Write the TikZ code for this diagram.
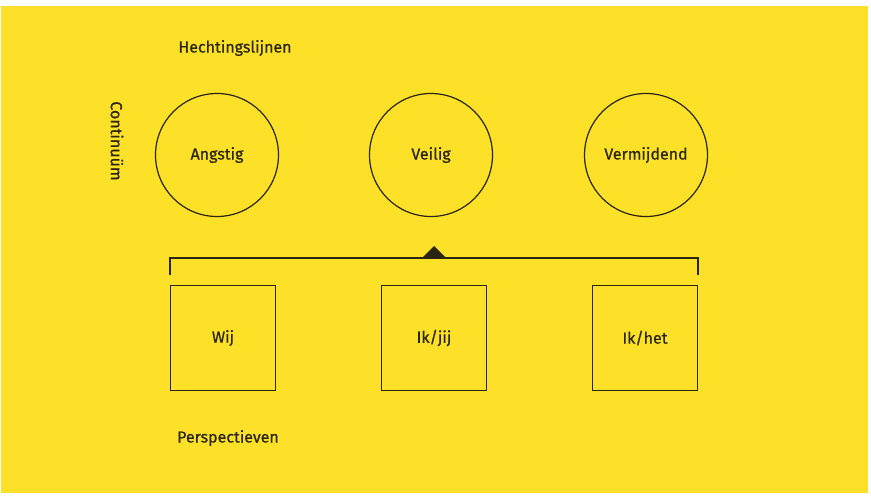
\documentclass[tikz,border=0pt]{standalone}
\usepackage{fontspec}
\setmainfont{Fira Sans}
\newfontfamily\lblfont{Fira Sans}[FakeBold=0.5]
\definecolor{bgyellow}{RGB}{253,225,40}
\definecolor{ink}{RGB}{42,37,16}
\begin{document}
\begin{tikzpicture}[x=1pt,y=-1pt,
  every node/.style={text=ink,font=\lblfont\fontsize{16}{18}\selectfont},
  stage/.style={circle,draw=ink,line width=1.2pt,minimum size=123pt,inner sep=0pt},
  view/.style={rectangle,draw=ink,line width=1.2pt,minimum size=105pt,inner sep=0pt},
  link/.style={draw=ink,line width=1.2pt}]
\useasboundingbox (0,0) rectangle (871,500);
\fill[white] (0,0) rectangle (871,500);
\fill[bgyellow] (1,6) rectangle (868,493);
\node (title) at (235,48) {Hechtingslijnen};
\node[rotate=-90] (cont) at (117,141) {Continuüm};
\node[stage] (a) at (217,155) {Angstig};
\node[stage] (v) at (431,155) {Veilig};
\node[stage] (m) at (646,155) {Vermijdend};
\node[view] (w) at (223,338) {Wij};
\node[view] (ij) at (434,338) {Ik/jij};
\node[view] (ih) at (645,338) {Ik/het};
\node (persp) at (228,438) {Perspectieven};
\coordinate (bl) at (170,258);
\coordinate (br) at (698,258);
\coordinate (tip) at (434,246);
\draw[link] (bl |- w.north) ++(0,-10) coordinate (blt) -- (bl) -- (br) -- ++(0,17) coordinate (brt);
\fill[ink] (tip) -- ++(12,12) -- ++(-24,0) -- cycle;
\end{tikzpicture}
\end{document}
